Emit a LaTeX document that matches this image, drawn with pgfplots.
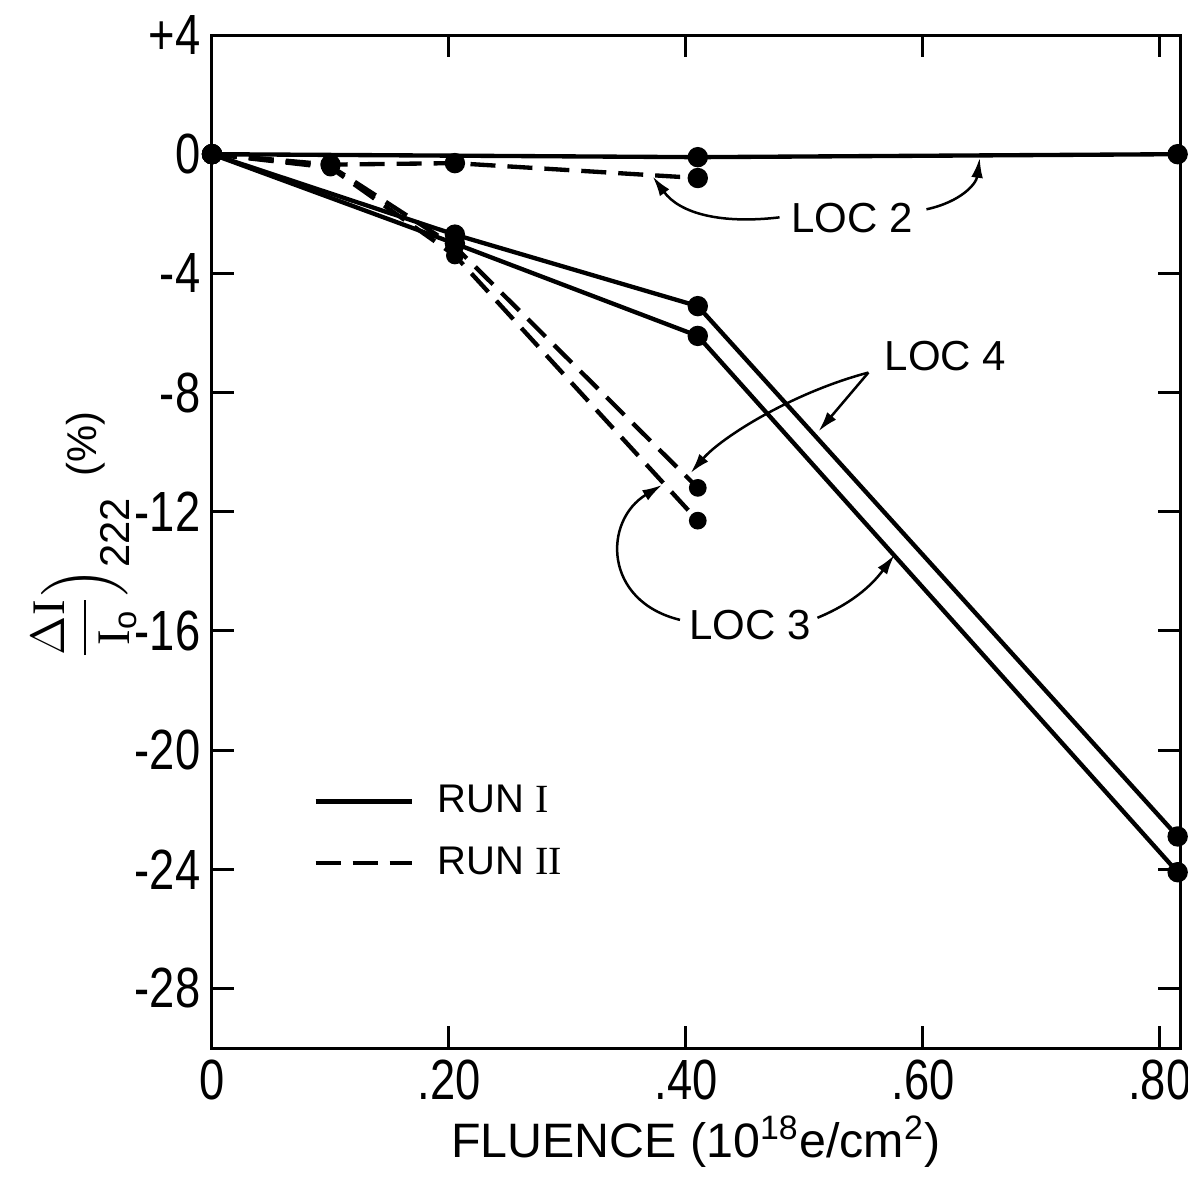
\documentclass[border=0pt]{standalone}
\usepackage{fontspec}
\setmainfont{Liberation Sans}
\newfontfamily\serifI{Liberation Serif}
\newfontfamily\tickfont{Liberation Sans}[FakeStretch=0.8]
\usepackage{amsmath}
\usepackage{pgfplots}
\pgfplotsset{compat=1.18}
\usetikzlibrary{arrows.meta}
\begin{document}
\begin{tikzpicture}
\begin{axis}[
  scale only axis, width=290.4pt, height=303.9pt,
  xmin=0, xmax=0.817, ymin=-30, ymax=4,
  clip=false,
  axis line style={line width=0.9pt},
  tick style={line width=0.9pt, black},
  major tick length=6.5pt,
  tick align=inside,
  xtick={0,0.2,0.4,0.6,0.8}, xticklabels={0,.20,.40,.60,.80},
  ytick={4,0,-4,-8,-12,-16,-20,-24,-28},
  yticklabels={+4,0,-4,-8,-12,-16,-20,-24,-28},
  tick label style={font=\tickfont\fontsize{17}{17}\selectfont},
  xlabel={FLUENCE (10\textsuperscript{18}e/cm\textsuperscript{2})},
  xlabel style={font=\fontsize{14.5}{15}\selectfont, yshift=2pt},
  ylabel={\fontsize{14}{14}\selectfont$\displaystyle\frac{\Delta\mbox{\serifI I}}{\mbox{\serifI I}_{\mathrm{o}}}\Bigr)_{\mbox{\fontsize{12.5}{13}\selectfont 222}}$\hspace{6pt}{\fontsize{12.5}{13}\selectfont(\%)}},
  ylabel style={inner sep=0pt, at={(axis description cs:-0.132,0.506)}, anchor=center},
  legend style={draw=none, fill=none, at={(axis cs:0.085,-20.94)}, anchor=north west,
    font=\fontsize{12}{14}\selectfont, row sep=4.6pt, inner sep=0pt},
  legend cell align=left,
  legend image code/.code={\draw[#1] (0pt,0pt) -- (29pt,0pt);},
  every axis plot/.append style={black, line width=1.3pt, mark=*, mark size=2.4pt, mark options={solid}},
]
\addlegendimage{black, line width=1.3pt}
\addlegendentry{\hspace{5pt}RUN {\serifI I}}
\addlegendimage{black, line width=1.3pt, dash pattern=on 7.5pt off 3.6pt}
\addlegendentry{\hspace{5pt}RUN {\serifI II}}

% Run I (solid)
\addplot[forget plot] coordinates {(0,0) (0.41,-0.1) (0.815,0)};
\addplot[forget plot] coordinates {(0,0) (0.205,-2.7) (0.41,-5.1) (0.815,-22.9)};
\addplot[forget plot] coordinates {(0,0) (0.205,-3.0) (0.41,-6.1) (0.815,-24.1)};
% Run II (dashed)
\addplot[forget plot, dash pattern=on 7.5pt off 3.6pt] coordinates {(0,0) (0.1,-0.35) (0.205,-0.3) (0.41,-0.8)};
\addplot[forget plot, dash pattern=on 7.5pt off 3.6pt, mark size=2pt] coordinates {(0,0) (0.1,-0.4) (0.205,-3.1) (0.41,-11.2)};
\addplot[forget plot, dash pattern=on 7.5pt off 3.6pt, mark size=2pt] coordinates {(0,0) (0.1,-0.45) (0.205,-3.4) (0.41,-12.3)};

% annotations
\node[font=\fontsize{12.6}{14}\selectfont] at (axis cs:0.540,-2.15) {LOC 2};
\node[font=\fontsize{12.6}{14}\selectfont] at (axis cs:0.619,-6.79) {LOC 4};
\node[font=\fontsize{12.6}{14}\selectfont] at (axis cs:0.454,-15.8) {LOC 3};
\begin{scope}[line width=0.75pt, -{Latex[length=6pt,width=3.5pt]}]
\draw (axis cs:0.479,-2.12) .. controls (axis cs:0.43,-2.35) and (axis cs:0.395,-2.0) .. (axis cs:0.372,-0.75);
\draw (axis cs:0.603,-1.85) .. controls (axis cs:0.632,-1.6) and (axis cs:0.645,-1.0) .. (axis cs:0.648,-0.12);
\draw (axis cs:0.554,-7.33) -- (axis cs:0.512,-9.3);
\draw (axis cs:0.554,-7.33) .. controls (axis cs:0.49,-8.0) and (axis cs:0.43,-9.5) .. (axis cs:0.404,-10.7);
\draw (axis cs:0.395,-15.63) .. controls (axis cs:0.33,-15.0) and (axis cs:0.33,-12.3) .. (axis cs:0.380,-11.1);
\draw (axis cs:0.511,-15.56) .. controls (axis cs:0.545,-15.0) and (axis cs:0.56,-14.3) .. (axis cs:0.576,-13.45);
\end{scope}
\end{axis}
\pgfresetboundingbox
\path[use as bounding box] (-63.6pt,-39.6pt) rectangle (292.8pt,314.4pt);
\end{tikzpicture}
\end{document}
